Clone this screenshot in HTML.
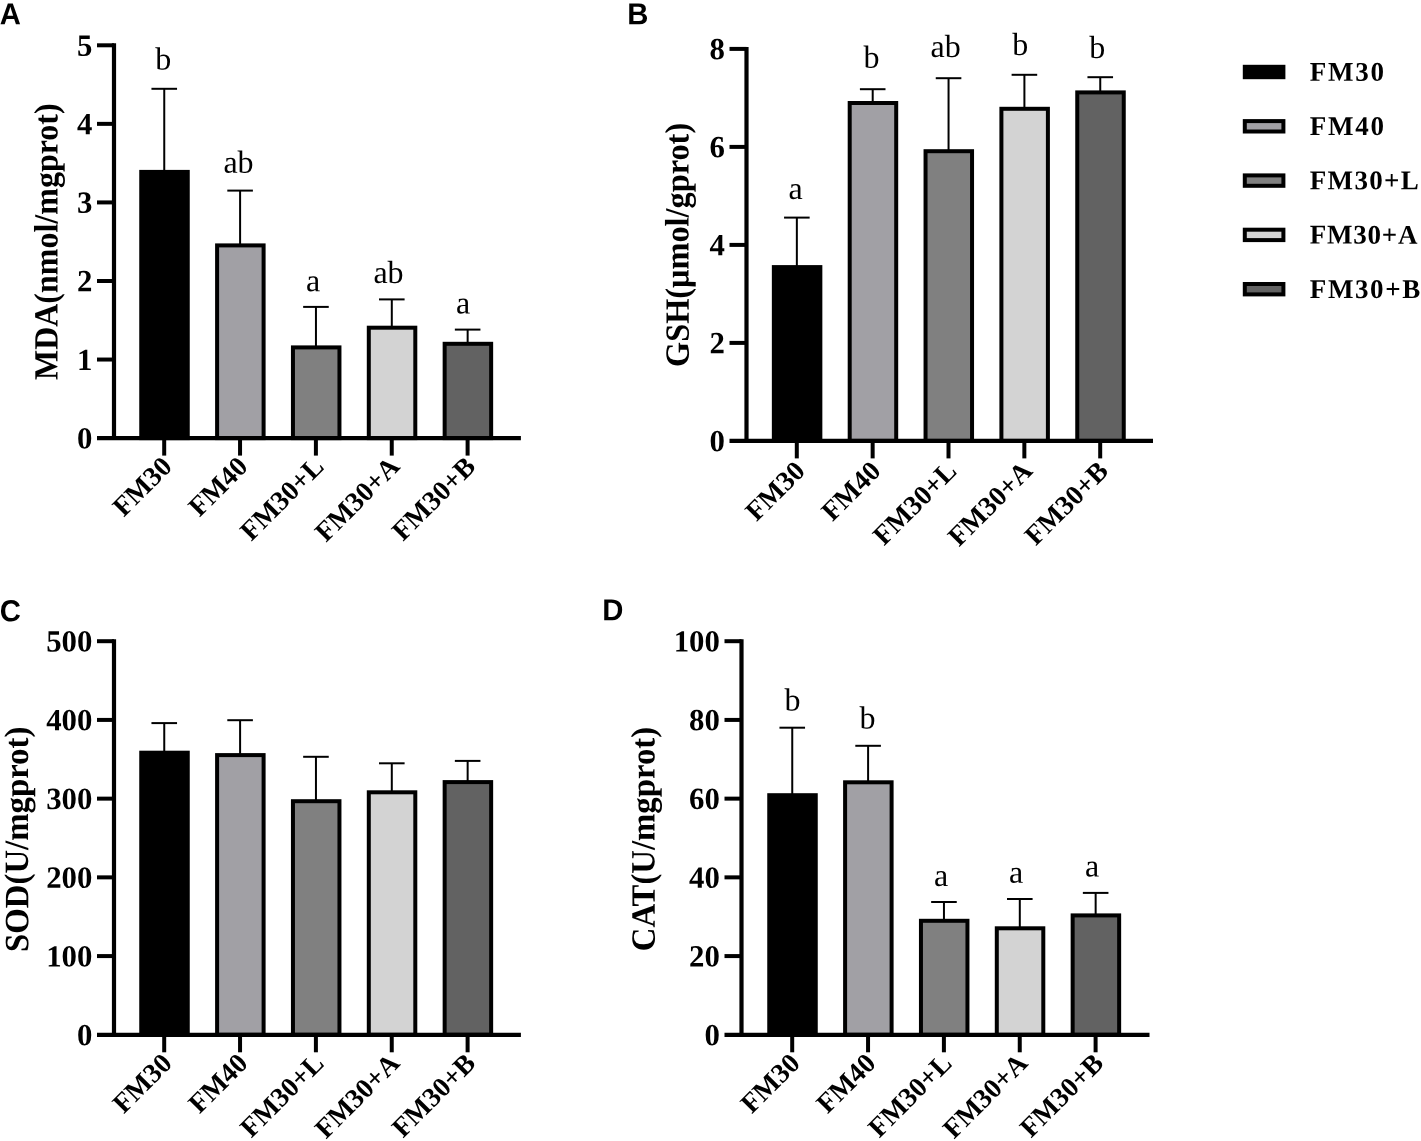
<!DOCTYPE html>
<html lang="en"><head><meta charset="utf-8"><title>Figure</title>
<style>
html,body{margin:0;padding:0;background:#fff;}
body{width:1421px;height:1141px;overflow:hidden;}
svg{display:block;will-change:transform;}
text{font-family:"Liberation Serif",serif;fill:#000;}
.b{font-weight:bold;}
.pl{font-family:"Liberation Sans",sans-serif;font-weight:bold;font-size:29px;}
.tk{font-weight:bold;font-size:30.80px;text-anchor:end;}
.xl{font-weight:bold;font-size:27.60px;text-anchor:end;}
.ti{font-weight:bold;font-size:32.00px;text-anchor:middle;}
.le{font-size:32.00px;text-anchor:middle;}
.lg{font-weight:bold;font-size:27px;letter-spacing:1.7px;}
</style></head><body>
<svg width="1421" height="1141" viewBox="0 0 1421 1141">
<rect x="0" y="0" width="1421" height="1141" fill="#ffffff"/>
<text class="pl" transform="translate(-0.3 24.2) rotate(0.03) scale(1.01 1.045)">A</text>
<text class="pl" transform="translate(627.3 24.3) rotate(0.03) scale(1.01 1.045)">B</text>
<text class="pl" transform="translate(-0.3 621.2) rotate(0.03) scale(1.01 1.045)">C</text>
<text class="pl" transform="translate(602.2 620.3) rotate(0.03) scale(1.01 1.045)">D</text>
<g id="panelA">
<line x1="164.25" y1="88.80" x2="164.25" y2="171.90" stroke="#000" stroke-width="2.0"/>
<line x1="151.45" y1="88.80" x2="177.05" y2="88.80" stroke="#000" stroke-width="2.0"/>
<line x1="240.10" y1="190.60" x2="240.10" y2="245.40" stroke="#000" stroke-width="2.0"/>
<line x1="227.30" y1="190.60" x2="252.90" y2="190.60" stroke="#000" stroke-width="2.0"/>
<line x1="315.95" y1="306.90" x2="315.95" y2="347.40" stroke="#000" stroke-width="2.0"/>
<line x1="303.15" y1="306.90" x2="328.75" y2="306.90" stroke="#000" stroke-width="2.0"/>
<line x1="391.80" y1="299.40" x2="391.80" y2="327.70" stroke="#000" stroke-width="2.0"/>
<line x1="379.00" y1="299.40" x2="404.60" y2="299.40" stroke="#000" stroke-width="2.0"/>
<line x1="467.65" y1="329.60" x2="467.65" y2="343.80" stroke="#000" stroke-width="2.0"/>
<line x1="454.85" y1="329.60" x2="480.45" y2="329.60" stroke="#000" stroke-width="2.0"/>
<rect x="141.25" y="171.90" width="46.50" height="266.20" fill="#000000" stroke="#000" stroke-width="4.0"/>
<rect x="217.10" y="245.40" width="46.50" height="192.70" fill="#a1a0a5" stroke="#000" stroke-width="4.0"/>
<rect x="292.95" y="347.40" width="46.50" height="90.70" fill="#808080" stroke="#000" stroke-width="4.0"/>
<rect x="368.80" y="327.70" width="46.50" height="110.40" fill="#d3d3d3" stroke="#000" stroke-width="4.0"/>
<rect x="444.65" y="343.80" width="46.50" height="94.30" fill="#626262" stroke="#000" stroke-width="4.0"/>
<line x1="114.00" y1="43.30" x2="114.00" y2="440.10" stroke="#000" stroke-width="4.2"/>
<line x1="97.00" y1="438.10" x2="520.90" y2="438.10" stroke="#000" stroke-width="4.2"/>
<text class="tk" transform="translate(92.40 448.50) rotate(0.03)">0</text>
<line x1="97.00" y1="359.54" x2="114.00" y2="359.54" stroke="#000" stroke-width="4.0"/>
<text class="tk" transform="translate(92.40 369.94) rotate(0.03)">1</text>
<line x1="97.00" y1="280.98" x2="114.00" y2="280.98" stroke="#000" stroke-width="4.0"/>
<text class="tk" transform="translate(92.40 291.38) rotate(0.03)">2</text>
<line x1="97.00" y1="202.42" x2="114.00" y2="202.42" stroke="#000" stroke-width="4.0"/>
<text class="tk" transform="translate(92.40 212.82) rotate(0.03)">3</text>
<line x1="97.00" y1="123.86" x2="114.00" y2="123.86" stroke="#000" stroke-width="4.0"/>
<text class="tk" transform="translate(92.40 134.26) rotate(0.03)">4</text>
<line x1="97.00" y1="45.30" x2="114.00" y2="45.30" stroke="#000" stroke-width="4.0"/>
<text class="tk" transform="translate(92.40 55.70) rotate(0.03)">5</text>
<line x1="164.20" y1="438.10" x2="164.20" y2="455.60" stroke="#000" stroke-width="4.0"/>
<text class="xl" transform="translate(173.50 468.00) rotate(-45)">FM30</text>
<line x1="240.05" y1="438.10" x2="240.05" y2="455.60" stroke="#000" stroke-width="4.0"/>
<text class="xl" transform="translate(249.35 468.00) rotate(-45)">FM40</text>
<line x1="315.90" y1="438.10" x2="315.90" y2="455.60" stroke="#000" stroke-width="4.0"/>
<text class="xl" transform="translate(325.20 468.00) rotate(-45)">FM30+L</text>
<line x1="391.75" y1="438.10" x2="391.75" y2="455.60" stroke="#000" stroke-width="4.0"/>
<text class="xl" transform="translate(401.05 468.00) rotate(-45)">FM30+A</text>
<line x1="467.60" y1="438.10" x2="467.60" y2="455.60" stroke="#000" stroke-width="4.0"/>
<text class="xl" transform="translate(476.90 468.00) rotate(-45)">FM30+B</text>
<text class="ti" style="font-size:32.00px" transform="translate(57.50 241.70) rotate(-90.03) scale(1 1.060)">MDA(nmol/mgprot)</text>
<text class="le" transform="translate(163.30 69.60) rotate(0.03)">b</text>
<text class="le" transform="translate(238.50 172.70) rotate(0.03)">ab</text>
<text class="le" transform="translate(313.00 291.30) rotate(0.03)">a</text>
<text class="le" transform="translate(388.50 283.10) rotate(0.03)">ab</text>
<text class="le" transform="translate(463.00 313.60) rotate(0.03)">a</text>
</g>
<g id="panelB">
<line x1="796.85" y1="217.60" x2="796.85" y2="267.10" stroke="#000" stroke-width="2.0"/>
<line x1="784.05" y1="217.60" x2="809.65" y2="217.60" stroke="#000" stroke-width="2.0"/>
<line x1="872.70" y1="89.20" x2="872.70" y2="103.00" stroke="#000" stroke-width="2.0"/>
<line x1="859.90" y1="89.20" x2="885.50" y2="89.20" stroke="#000" stroke-width="2.0"/>
<line x1="948.55" y1="78.20" x2="948.55" y2="151.20" stroke="#000" stroke-width="2.0"/>
<line x1="935.75" y1="78.20" x2="961.35" y2="78.20" stroke="#000" stroke-width="2.0"/>
<line x1="1024.40" y1="74.80" x2="1024.40" y2="108.80" stroke="#000" stroke-width="2.0"/>
<line x1="1011.60" y1="74.80" x2="1037.20" y2="74.80" stroke="#000" stroke-width="2.0"/>
<line x1="1100.25" y1="77.20" x2="1100.25" y2="92.40" stroke="#000" stroke-width="2.0"/>
<line x1="1087.45" y1="77.20" x2="1113.05" y2="77.20" stroke="#000" stroke-width="2.0"/>
<rect x="773.85" y="267.10" width="46.50" height="173.80" fill="#000000" stroke="#000" stroke-width="4.0"/>
<rect x="849.70" y="103.00" width="46.50" height="337.90" fill="#a1a0a5" stroke="#000" stroke-width="4.0"/>
<rect x="925.55" y="151.20" width="46.50" height="289.70" fill="#808080" stroke="#000" stroke-width="4.0"/>
<rect x="1001.40" y="108.80" width="46.50" height="332.10" fill="#d3d3d3" stroke="#000" stroke-width="4.0"/>
<rect x="1077.25" y="92.40" width="46.50" height="348.50" fill="#626262" stroke="#000" stroke-width="4.0"/>
<line x1="746.50" y1="46.90" x2="746.50" y2="442.90" stroke="#000" stroke-width="4.2"/>
<line x1="729.50" y1="440.90" x2="1153.00" y2="440.90" stroke="#000" stroke-width="4.2"/>
<text class="tk" transform="translate(724.90 451.30) rotate(0.03)">0</text>
<line x1="729.50" y1="342.90" x2="746.50" y2="342.90" stroke="#000" stroke-width="4.0"/>
<text class="tk" transform="translate(724.90 353.30) rotate(0.03)">2</text>
<line x1="729.50" y1="244.90" x2="746.50" y2="244.90" stroke="#000" stroke-width="4.0"/>
<text class="tk" transform="translate(724.90 255.30) rotate(0.03)">4</text>
<line x1="729.50" y1="146.90" x2="746.50" y2="146.90" stroke="#000" stroke-width="4.0"/>
<text class="tk" transform="translate(724.90 157.30) rotate(0.03)">6</text>
<line x1="729.50" y1="48.90" x2="746.50" y2="48.90" stroke="#000" stroke-width="4.0"/>
<text class="tk" transform="translate(724.90 59.30) rotate(0.03)">8</text>
<line x1="796.80" y1="440.90" x2="796.80" y2="458.40" stroke="#000" stroke-width="4.0"/>
<text class="xl" transform="translate(806.40 472.50) rotate(-45)">FM30</text>
<line x1="872.65" y1="440.90" x2="872.65" y2="458.40" stroke="#000" stroke-width="4.0"/>
<text class="xl" transform="translate(882.25 472.50) rotate(-45)">FM40</text>
<line x1="948.50" y1="440.90" x2="948.50" y2="458.40" stroke="#000" stroke-width="4.0"/>
<text class="xl" transform="translate(958.10 472.50) rotate(-45)">FM30+L</text>
<line x1="1024.35" y1="440.90" x2="1024.35" y2="458.40" stroke="#000" stroke-width="4.0"/>
<text class="xl" transform="translate(1033.95 472.50) rotate(-45)">FM30+A</text>
<line x1="1100.20" y1="440.90" x2="1100.20" y2="458.40" stroke="#000" stroke-width="4.0"/>
<text class="xl" transform="translate(1109.80 472.50) rotate(-45)">FM30+B</text>
<text class="ti" style="font-size:32.35px" transform="translate(688.60 244.90) rotate(-90.03) scale(1 1.050)">GSH(μmol/gprot)</text>
<text class="le" transform="translate(795.70 199.00) rotate(0.03)">a</text>
<text class="le" transform="translate(871.50 67.80) rotate(0.03)">b</text>
<text class="le" transform="translate(945.60 56.90) rotate(0.03)">ab</text>
<text class="le" transform="translate(1020.30 54.90) rotate(0.03)">b</text>
<text class="le" transform="translate(1097.20 58.00) rotate(0.03)">b</text>
</g>
<g id="panelC">
<line x1="164.25" y1="723.10" x2="164.25" y2="752.70" stroke="#000" stroke-width="2.0"/>
<line x1="151.45" y1="723.10" x2="177.05" y2="723.10" stroke="#000" stroke-width="2.0"/>
<line x1="240.10" y1="720.20" x2="240.10" y2="755.10" stroke="#000" stroke-width="2.0"/>
<line x1="227.30" y1="720.20" x2="252.90" y2="720.20" stroke="#000" stroke-width="2.0"/>
<line x1="315.95" y1="756.80" x2="315.95" y2="801.20" stroke="#000" stroke-width="2.0"/>
<line x1="303.15" y1="756.80" x2="328.75" y2="756.80" stroke="#000" stroke-width="2.0"/>
<line x1="391.80" y1="763.30" x2="391.80" y2="792.30" stroke="#000" stroke-width="2.0"/>
<line x1="379.00" y1="763.30" x2="404.60" y2="763.30" stroke="#000" stroke-width="2.0"/>
<line x1="467.65" y1="760.90" x2="467.65" y2="782.10" stroke="#000" stroke-width="2.0"/>
<line x1="454.85" y1="760.90" x2="480.45" y2="760.90" stroke="#000" stroke-width="2.0"/>
<rect x="141.25" y="752.70" width="46.50" height="282.10" fill="#000000" stroke="#000" stroke-width="4.0"/>
<rect x="217.10" y="755.10" width="46.50" height="279.70" fill="#a1a0a5" stroke="#000" stroke-width="4.0"/>
<rect x="292.95" y="801.20" width="46.50" height="233.60" fill="#808080" stroke="#000" stroke-width="4.0"/>
<rect x="368.80" y="792.30" width="46.50" height="242.50" fill="#d3d3d3" stroke="#000" stroke-width="4.0"/>
<rect x="444.65" y="782.10" width="46.50" height="252.70" fill="#626262" stroke="#000" stroke-width="4.0"/>
<line x1="114.00" y1="639.20" x2="114.00" y2="1036.80" stroke="#000" stroke-width="4.2"/>
<line x1="97.00" y1="1034.80" x2="520.90" y2="1034.80" stroke="#000" stroke-width="4.2"/>
<text class="tk" transform="translate(92.40 1045.20) rotate(0.03)">0</text>
<line x1="97.00" y1="956.08" x2="114.00" y2="956.08" stroke="#000" stroke-width="4.0"/>
<text class="tk" transform="translate(92.40 966.48) rotate(0.03)">100</text>
<line x1="97.00" y1="877.36" x2="114.00" y2="877.36" stroke="#000" stroke-width="4.0"/>
<text class="tk" transform="translate(92.40 887.76) rotate(0.03)">200</text>
<line x1="97.00" y1="798.64" x2="114.00" y2="798.64" stroke="#000" stroke-width="4.0"/>
<text class="tk" transform="translate(92.40 809.04) rotate(0.03)">300</text>
<line x1="97.00" y1="719.92" x2="114.00" y2="719.92" stroke="#000" stroke-width="4.0"/>
<text class="tk" transform="translate(92.40 730.32) rotate(0.03)">400</text>
<line x1="97.00" y1="641.20" x2="114.00" y2="641.20" stroke="#000" stroke-width="4.0"/>
<text class="tk" transform="translate(92.40 651.60) rotate(0.03)">500</text>
<line x1="164.20" y1="1034.80" x2="164.20" y2="1052.30" stroke="#000" stroke-width="4.0"/>
<text class="xl" transform="translate(173.50 1064.70) rotate(-45)">FM30</text>
<line x1="240.05" y1="1034.80" x2="240.05" y2="1052.30" stroke="#000" stroke-width="4.0"/>
<text class="xl" transform="translate(249.35 1064.70) rotate(-45)">FM40</text>
<line x1="315.90" y1="1034.80" x2="315.90" y2="1052.30" stroke="#000" stroke-width="4.0"/>
<text class="xl" transform="translate(325.20 1064.70) rotate(-45)">FM30+L</text>
<line x1="391.75" y1="1034.80" x2="391.75" y2="1052.30" stroke="#000" stroke-width="4.0"/>
<text class="xl" transform="translate(401.05 1064.70) rotate(-45)">FM30+A</text>
<line x1="467.60" y1="1034.80" x2="467.60" y2="1052.30" stroke="#000" stroke-width="4.0"/>
<text class="xl" transform="translate(476.90 1064.70) rotate(-45)">FM30+B</text>
<text class="ti" style="font-size:32.80px" transform="translate(28.10 839.30) rotate(-90.03) scale(1 1.040)">SOD(U/mgprot)</text>
</g>
<g id="panelD">
<line x1="792.25" y1="727.70" x2="792.25" y2="795.20" stroke="#000" stroke-width="2.0"/>
<line x1="779.45" y1="727.70" x2="805.05" y2="727.70" stroke="#000" stroke-width="2.0"/>
<line x1="868.10" y1="745.80" x2="868.10" y2="782.30" stroke="#000" stroke-width="2.0"/>
<line x1="855.30" y1="745.80" x2="880.90" y2="745.80" stroke="#000" stroke-width="2.0"/>
<line x1="943.95" y1="902.00" x2="943.95" y2="920.80" stroke="#000" stroke-width="2.0"/>
<line x1="931.15" y1="902.00" x2="956.75" y2="902.00" stroke="#000" stroke-width="2.0"/>
<line x1="1019.80" y1="899.00" x2="1019.80" y2="928.30" stroke="#000" stroke-width="2.0"/>
<line x1="1007.00" y1="899.00" x2="1032.60" y2="899.00" stroke="#000" stroke-width="2.0"/>
<line x1="1095.65" y1="892.90" x2="1095.65" y2="915.40" stroke="#000" stroke-width="2.0"/>
<line x1="1082.85" y1="892.90" x2="1108.45" y2="892.90" stroke="#000" stroke-width="2.0"/>
<rect x="769.25" y="795.20" width="46.50" height="239.60" fill="#000000" stroke="#000" stroke-width="4.0"/>
<rect x="845.10" y="782.30" width="46.50" height="252.50" fill="#a1a0a5" stroke="#000" stroke-width="4.0"/>
<rect x="920.95" y="920.80" width="46.50" height="114.00" fill="#808080" stroke="#000" stroke-width="4.0"/>
<rect x="996.80" y="928.30" width="46.50" height="106.50" fill="#d3d3d3" stroke="#000" stroke-width="4.0"/>
<rect x="1072.65" y="915.40" width="46.50" height="119.40" fill="#626262" stroke="#000" stroke-width="4.0"/>
<line x1="741.50" y1="639.20" x2="741.50" y2="1036.80" stroke="#000" stroke-width="4.2"/>
<line x1="724.50" y1="1034.80" x2="1149.50" y2="1034.80" stroke="#000" stroke-width="4.2"/>
<text class="tk" transform="translate(719.90 1045.20) rotate(0.03)">0</text>
<line x1="724.50" y1="956.08" x2="741.50" y2="956.08" stroke="#000" stroke-width="4.0"/>
<text class="tk" transform="translate(719.90 966.48) rotate(0.03)">20</text>
<line x1="724.50" y1="877.36" x2="741.50" y2="877.36" stroke="#000" stroke-width="4.0"/>
<text class="tk" transform="translate(719.90 887.76) rotate(0.03)">40</text>
<line x1="724.50" y1="798.64" x2="741.50" y2="798.64" stroke="#000" stroke-width="4.0"/>
<text class="tk" transform="translate(719.90 809.04) rotate(0.03)">60</text>
<line x1="724.50" y1="719.92" x2="741.50" y2="719.92" stroke="#000" stroke-width="4.0"/>
<text class="tk" transform="translate(719.90 730.32) rotate(0.03)">80</text>
<line x1="724.50" y1="641.20" x2="741.50" y2="641.20" stroke="#000" stroke-width="4.0"/>
<text class="tk" transform="translate(719.90 651.60) rotate(0.03)">100</text>
<line x1="792.20" y1="1034.80" x2="792.20" y2="1052.30" stroke="#000" stroke-width="4.0"/>
<text class="xl" transform="translate(801.50 1064.70) rotate(-45)">FM30</text>
<line x1="868.05" y1="1034.80" x2="868.05" y2="1052.30" stroke="#000" stroke-width="4.0"/>
<text class="xl" transform="translate(877.35 1064.70) rotate(-45)">FM40</text>
<line x1="943.90" y1="1034.80" x2="943.90" y2="1052.30" stroke="#000" stroke-width="4.0"/>
<text class="xl" transform="translate(953.20 1064.70) rotate(-45)">FM30+L</text>
<line x1="1019.75" y1="1034.80" x2="1019.75" y2="1052.30" stroke="#000" stroke-width="4.0"/>
<text class="xl" transform="translate(1029.05 1064.70) rotate(-45)">FM30+A</text>
<line x1="1095.60" y1="1034.80" x2="1095.60" y2="1052.30" stroke="#000" stroke-width="4.0"/>
<text class="xl" transform="translate(1104.90 1064.70) rotate(-45)">FM30+B</text>
<text class="ti" style="font-size:32.75px" transform="translate(654.60 839.10) rotate(-90.03) scale(1 1.040)">CAT(U/mgprot)</text>
<text class="le" transform="translate(792.50 710.60) rotate(0.03)">b</text>
<text class="le" transform="translate(867.60 728.50) rotate(0.03)">b</text>
<text class="le" transform="translate(941.20 886.00) rotate(0.03)">a</text>
<text class="le" transform="translate(1016.20 882.70) rotate(0.03)">a</text>
<text class="le" transform="translate(1092.10 876.50) rotate(0.03)">a</text>
</g>
<g id="legend">
<rect x="1244.80" y="66.80" width="38.60" height="10.40" fill="#000000" stroke="#000" stroke-width="4"/>
<text class="lg" style="letter-spacing:1.70px" transform="translate(1309.80 80.70) rotate(0.03)">FM30</text>
<rect x="1244.80" y="121.10" width="38.60" height="10.40" fill="#a1a0a5" stroke="#000" stroke-width="4"/>
<text class="lg" style="letter-spacing:1.70px" transform="translate(1309.80 135.00) rotate(0.03)">FM40</text>
<rect x="1244.80" y="175.40" width="38.60" height="10.40" fill="#808080" stroke="#000" stroke-width="4"/>
<text class="lg" style="letter-spacing:1.30px" transform="translate(1309.80 189.30) rotate(0.03)">FM30+L</text>
<rect x="1244.80" y="229.70" width="38.60" height="10.40" fill="#d3d3d3" stroke="#000" stroke-width="4"/>
<text class="lg" style="letter-spacing:0.75px" transform="translate(1309.80 243.60) rotate(0.03)">FM30+A</text>
<rect x="1244.80" y="284.00" width="38.60" height="10.40" fill="#626262" stroke="#000" stroke-width="4"/>
<text class="lg" style="letter-spacing:1.60px" transform="translate(1309.80 297.90) rotate(0.03)">FM30+B</text>
</g>
</svg>
</body></html>
